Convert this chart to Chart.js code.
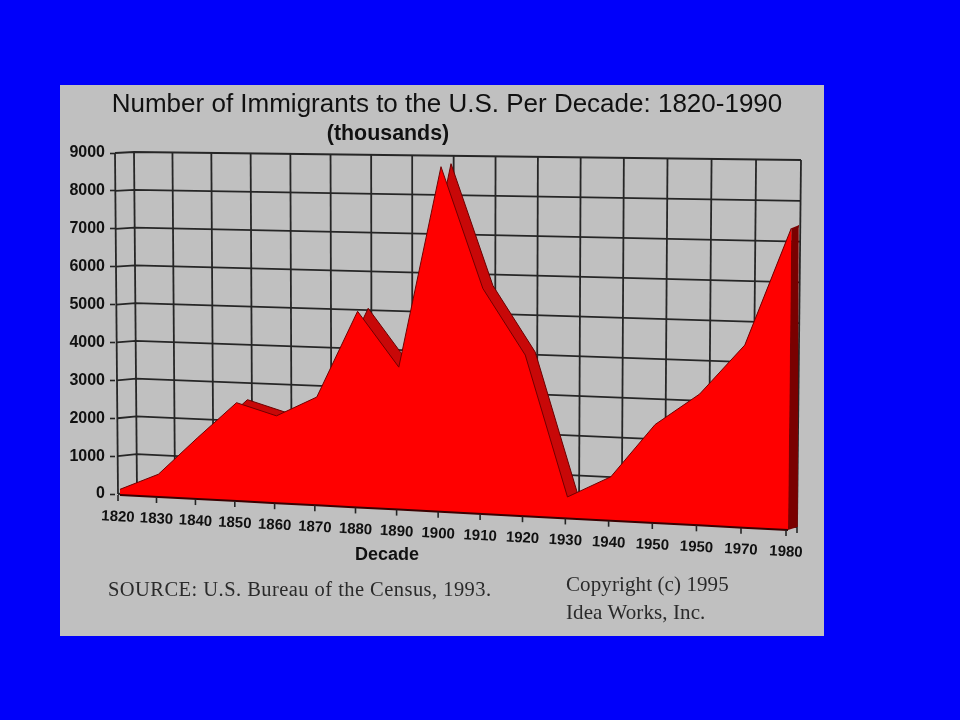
<!DOCTYPE html>
<html>
<head>
<meta charset="utf-8">
<script src="https://cdn.jsdelivr.net/npm/chart.js@4"></script>
<style>
html,body{margin:0;padding:0;width:960px;height:720px;background:#0000fa;overflow:hidden}
#panel{position:absolute;left:60px;top:85px;width:764px;height:551px;background:#c0c0c0}
#wrap{position:absolute;left:0;top:0;width:894px;height:720px}
.note{position:absolute;font-family:"Liberation Serif",serif;color:#2a2a2a;white-space:nowrap;line-height:1}
</style>
</head>
<body>
<div id="panel"></div>
<div id="wrap"><canvas id="c"></canvas></div>
<div class="note" style="left:108px;top:579px;font-size:20.5px;letter-spacing:.45px">SOURCE: U.S. Bureau of the Census, 1993.</div>
<div class="note" style="left:566px;top:574px;font-size:21px;letter-spacing:.1px">Copyright (c) 1995</div>
<div class="note" style="left:566px;top:602px;font-size:21px;letter-spacing:.1px">Idea Works, Inc.</div>
<script>
const decadeLabels = ['1820','1830','1840','1850','1860','1870','1880','1890','1900','1910','1920','1930','1940','1950','1950','1970','1980'];
const immigrants = [150,600,1600,2570,2270,2800,5050,3650,8800,5720,4070,540,1100,2450,3250,4500,7400];
const baseline = [0,0,0,0,0,0,0,0,0,0,0,0,0,0,0,0,0];
const yTickValues = [0,1000,2000,3000,4000,5000,6000,7000,8000,9000];
const titleText = 'Number of Immigrants to the U.S. Per Decade: 1820-1990';
const subtitleText = '(thousands)';
const xAxisTitle = 'Decade';

const frontPlane = {bl:[120,495], br:[788,530], tl:[118,155], tr:[792,163]};
const wallPlane  = {bl:[137,492], br:[797,527], tl:[134,152], tr:[801,160]};
const widen = 0.083;
const lastIndex = decadeLabels.length - 1;

function lerp(a,b,f){return a+(b-a)*f;}
function warp(u){return u+widen*u*(u-1);}
function project(plane,u,t){
  const w=warp(u);
  return [
    lerp(lerp(plane.bl[0],plane.br[0],w),lerp(plane.tl[0],plane.tr[0],w),t),
    lerp(lerp(plane.bl[1],plane.br[1],w),lerp(plane.tl[1],plane.tr[1],w),t)
  ];
}
function normY(chart,py){
  const s=chart.scales.y,z=s.getPixelForValue(0),m=s.getPixelForValue(9000);
  return (z-py)/(z-m);
}
function line(ctx,a,b){ctx.beginPath();ctx.moveTo(a[0],a[1]);ctx.lineTo(b[0],b[1]);ctx.stroke();}

const perspective = {
  id:'perspective',
  afterDatasetsUpdate(chart){
    chart.data.datasets.forEach((ds,d)=>{
      const meta=chart.getDatasetMeta(d);
      const xs=chart.scales.x;
      meta.data.forEach((el,i)=>{
        const u=xs.getValueForPixel(el.x)/lastIndex;
        const t=normY(chart,el.y);
        const p=project(frontPlane,u,t);
        el.x=p[0]+(ds.back?lerp(11,lerp(9.5,7,t),u*u):0);
        el.y=p[1]+(ds.back?-3:0);
      });
    });
  },
  beforeDatasetsDraw(chart){
    const ctx=chart.ctx,s=chart.scales.y;
    ctx.save();
    ctx.strokeStyle='#262626';ctx.lineWidth=1.8;
    yTickValues.forEach(v=>{
      const t=normY(chart,s.getPixelForValue(v));
      const side=[lerp(118,115,t),s.getPixelForValue(v)];
      const a=project(wallPlane,0,t),b=project(wallPlane,1,t);
      ctx.beginPath();ctx.moveTo(side[0],side[1]);ctx.lineTo(a[0],a[1]);ctx.lineTo(b[0],b[1]);ctx.stroke();
    });
    line(ctx,[118,s.getPixelForValue(0)],[115,s.getPixelForValue(9000)]);
    decadeLabels.forEach((l,i)=>{
      line(ctx,project(wallPlane,i/lastIndex,0),project(wallPlane,i/lastIndex,1));
    });
    ctx.restore();
  },
  afterDatasetDraw(chart,args){
    if(args.index!==2) return;
    const ctx=chart.ctx;
    const front=chart.getDatasetMeta(1).data;
    const top=front[lastIndex],prev=front[lastIndex-1],base=chart.getDatasetMeta(0).data[lastIndex];
    const topB=chart.getDatasetMeta(2).data[lastIndex],baseB=chart.getDatasetMeta(3).data[lastIndex];
    ctx.save();ctx.fillStyle='#7a0000';
    ctx.beginPath();ctx.moveTo(top.x,top.y);ctx.lineTo(topB.x,topB.y);ctx.lineTo(baseB.x,baseB.y);ctx.lineTo(base.x,base.y);ctx.closePath();ctx.fill();
    ctx.fillStyle='#ff0000';
    ctx.beginPath();ctx.moveTo(top.x,top.y);ctx.lineTo(base.x,base.y);ctx.lineTo(prev.x,prev.y);ctx.closePath();ctx.fill();
    ctx.restore();
  },
  afterDatasetsDraw(chart){
    const ctx=chart.ctx;
    ctx.save();
    ctx.strokeStyle='#242424';ctx.lineWidth=1.6;
    ctx.fillStyle='#111';
    ctx.textAlign='center';ctx.textBaseline='middle';
    decadeLabels.forEach((l,i)=>{
      const p=project(frontPlane,i/lastIndex,0);
      const x=p[0]-2;
      line(ctx,[x,p[1]],[x,p[1]+6]);
      ctx.save();
      ctx.translate(x,p[1]+22);
      ctx.rotate(3*Math.PI/180);
      ctx.font='bold 15px "Liberation Sans"';
      ctx.fillText(l,0,0);
      ctx.restore();
    });
    const corner=project(wallPlane,1,0);
    line(ctx,corner,[corner[0],corner[1]+6]);
    ctx.font='bold 18px "Liberation Sans"';
    ctx.fillText(xAxisTitle,387,555);
    ctx.font='bold 21.4px "Liberation Sans"';
    ctx.fillText(subtitleText,388,134);
    ctx.restore();
  }
};

new Chart(document.getElementById('c'),{
  type:'line',
  data:{datasets:[
    {data:baseline.map((v,i)=>({x:i,y:v})),borderColor:'#3a0000',borderWidth:2,pointRadius:0,fill:false,clip:false},
    {data:immigrants.map((v,i)=>({x:i,y:v})),borderColor:'#700000',borderWidth:1,backgroundColor:'#ff0000',pointRadius:0,fill:0,clip:false},
    {back:true,data:immigrants.map((v,i)=>({x:i,y:v})),borderColor:'#6a0000',borderWidth:1,backgroundColor:'#c80808',pointRadius:0,fill:3,clip:false},
    {back:true,data:baseline.map((v,i)=>({x:i,y:v})),borderWidth:0,borderColor:'transparent',pointRadius:0,fill:false,clip:false}
  ]},
  options:{
    responsive:true,maintainAspectRatio:false,animation:false,
    layout:{padding:{left:60,right:60,top:0,bottom:188.1}},
    elements:{line:{tension:0}},
    plugins:{
      legend:{display:false},tooltip:{enabled:false},
      title:{display:true,text:titleText,color:'#111',font:{family:'"Liberation Sans"',size:26,weight:'normal'},padding:{top:89.4,bottom:32.4}}
    },
    scales:{
      x:{type:'linear',display:false,min:0,max:17},
      y:{
        min:-1000,max:9000,
        afterFit(s){s.width=55;},
        afterBuildTicks(s){s.ticks=yTickValues.map(v=>({value:v}));},
        grid:{drawOnChartArea:false,drawTicks:true,tickLength:5,tickColor:'#242424',tickWidth:1.6},
        border:{display:false},
        ticks:{color:'#111',padding:5,font:{family:'"Liberation Sans"',size:16,weight:'bold'},callback:v=>String(v)}
      }
    }
  },
  plugins:[perspective]
});
</script>
</body>
</html>
